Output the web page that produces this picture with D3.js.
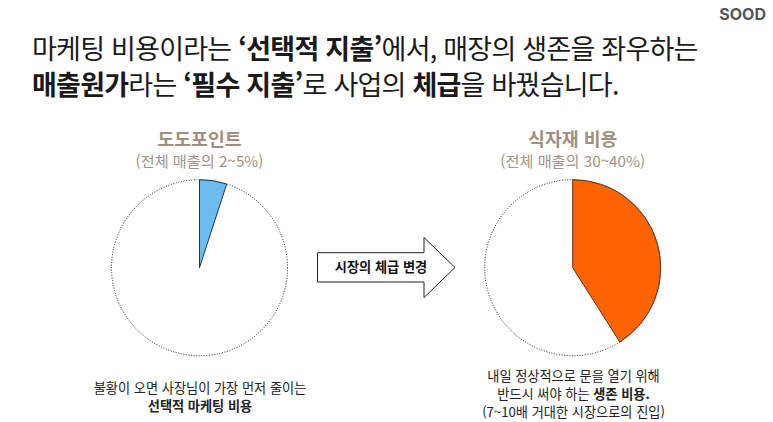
<!DOCTYPE html>
<html lang="ko">
<head>
  <meta charset="UTF-8">
  <title>시장의 체급 변경</title>
  <script src="https://d3js.org/d3.v7.min.js"></script>
  <style>
    html, body { margin: 0; padding: 0; background: #fff; }
    svg { display: block; font-family: "Noto Sans CJK KR", sans-serif; }
    text { text-anchor: middle; fill: #111; }
    .title { text-anchor: start; font-size: 27px; letter-spacing: -0.76px; fill: #1a1a1a; }
    .head { font-size: 18.3px; font-weight: 700; fill: #a08f7c; }
    .sub { font-size: 15.2px; fill: #a39382; }
    .note { font-size: 13.2px; fill: #222; }
    .b { font-weight: 700; }
  </style>
</head>
<body>
  <svg width="773" height="422"></svg>
  <script>
    const svg = d3.select("svg");

    // 값은 그림에서 읽은 추정치 (전체 매출 대비 %)
    const categories = ["도도포인트", "식자재 비용"];
    const subLabels = ["(전체 매출의 2~5%)", "(전체 매출의 30~40%)"];
    const shares = [5, 41];
    const sliceColors = ["#6dbcf0", "#ff6403"];
    const sliceStrokes = ["#1d3a52", "#5a3320"];

    const titleLines = [
      [["마케팅 비용이라는 ", 0], ["‘선택적 지출’", 1], ["에서, 매장의 생존을 좌우하는", 0]],
      [["매출원가", 1], ["라는 ", 0], ["‘필수 지출’", 1], ["로 사업의 ", 0], ["체급", 1], ["을 바꿨습니다.", 0]]
    ];
    const notes = [
      [[["불황이 오면 사장님이 가장 먼저 줄이는", 0]], [["선택적 마케팅 비용", 1]]],
      [[["내일 정상적으로 문을 열기 위해", 0]], [["반드시 써야 하는 ", 0], ["생존 비용.", 1]], [["(7~10배 거대한 시장으로의 진입)", 0]]]
    ];

    const centerX = [199.5, 572.7], centerY = 267.7, radius = 88;
    const noteY = [[392.5, 410.5], [380.5, 399, 417]];

    function addRuns(text, runs) {
      text.selectAll("tspan").data(runs).enter().append("tspan")
        .attr("class", d => d[1] ? "b" : null)
        .text(d => d[0]);
    }

    svg.append("text")
      .attr("x", 766).attr("y", 20)
      .style("text-anchor", "end").style("font-size", "16px")
      .style("font-weight", 700).style("fill", "#555")
      .style("font-family", "Inter, sans-serif")
      .text("SOOD");

    titleLines.forEach((runs, i) => {
      const t = svg.append("text").attr("class", "title").attr("x", 32).attr("y", [59, 94.5][i]);
      addRuns(t, runs);
    });

    const arc = d3.arc().innerRadius(0).outerRadius(radius);

    shares.forEach((share, i) => {
      const g = svg.append("g").attr("transform", `translate(${centerX[i]},${centerY})`);

      g.append("circle").attr("r", radius)
        .attr("fill", "none").attr("stroke", "#222")
        .attr("stroke-width", 1).attr("stroke-dasharray", "1 1.6");

      const slices = d3.pie().sort(null)([share, 100 - share]);
      g.append("path").datum(slices[0]).attr("d", arc)
        .attr("fill", sliceColors[i]).attr("stroke", sliceStrokes[i])
        .attr("stroke-width", 1).attr("stroke-linejoin", "round");

      svg.append("text").attr("class", "head").attr("x", centerX[i]).attr("y", 145.5).text(categories[i]);
      svg.append("text").attr("class", "sub").attr("x", centerX[i]).attr("y", 166.5).text(subLabels[i]);

      notes[i].forEach((runs, j) => {
        const t = svg.append("text").attr("class", "note").attr("x", [200, 573.5][i]).attr("y", noteY[i][j]);
        addRuns(t, runs);
      });
    });

    // 가운데 화살표
    svg.append("path")
      .attr("d", d3.line()([[317.5, 252.7], [424, 252.7], [424, 237.5], [455, 267.5], [424, 297.5], [424, 282], [317.5, 282]]) + "Z")
      .attr("fill", "#fff").attr("stroke", "#222").attr("stroke-width", 1);
    svg.append("text").attr("class", "b")
      .attr("x", 381).attr("y", 272).style("font-size", "13.2px").text("시장의 체급 변경");
  </script>
</body>
</html>
